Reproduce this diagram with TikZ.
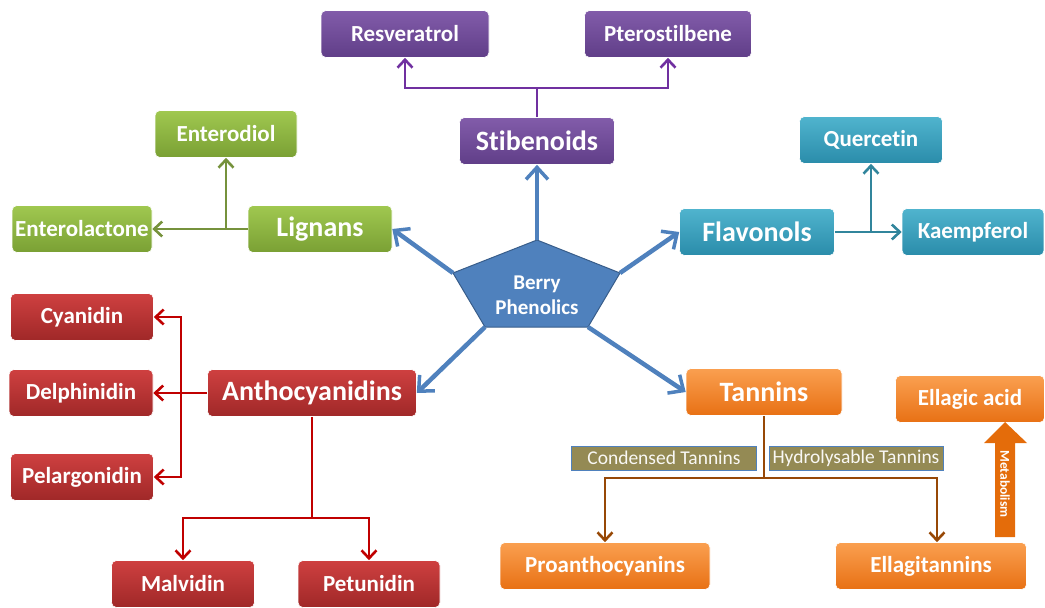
\documentclass[tikz,border=0pt]{standalone}
\usepackage{fontspec}
\setmainfont{Carlito}[Ligatures=NoCommon]
\usepackage{xcolor}
\usepackage{tikz}
\usetikzlibrary{arrows.meta}
\definecolor{bpBlue}{RGB}{79,129,189}
\definecolor{bpBlueDark}{RGB}{56,93,138}
\definecolor{stPurpleTop}{RGB}{130,92,170}
\definecolor{stPurpleBot}{RGB}{96,62,136}
\definecolor{stPurpleLine}{RGB}{112,48,160}
\definecolor{lgGreenTop}{RGB}{160,200,80}
\definecolor{lgGreenBot}{RGB}{122,160,52}
\definecolor{lgGreenLine}{RGB}{118,146,60}
\definecolor{flTealTop}{RGB}{80,180,206}
\definecolor{flTealBot}{RGB}{42,140,170}
\definecolor{flTealLine}{RGB}{49,133,156}
\definecolor{anRedTop}{RGB}{206,64,64}
\definecolor{anRedBot}{RGB}{160,40,40}
\definecolor{anRedLine}{RGB}{192,0,0}
\definecolor{tnOrangeTop}{RGB}{250,160,80}
\definecolor{tnOrangeBot}{RGB}{232,112,20}
\definecolor{tnBrownLine}{RGB}{151,72,6}
\definecolor{tnOrangeArrow}{RGB}{228,108,10}
\definecolor{tnTan}{RGB}{148,138,84}

\begin{document}
\begin{tikzpicture}[x=1pt,y=-1pt,
  box/.style={rounded corners=5pt, minimum height=47pt, inner sep=2pt, text=white,
    draw=white, line width=0.6pt, font=\bfseries\fontsize{23}{27}\selectfont},
  bigbox/.style={box, font=\bfseries\fontsize{28}{32}\selectfont},
  purplebox/.style={top color=stPurpleTop, bottom color=stPurpleBot},
  greenbox/.style={top color=lgGreenTop, bottom color=lgGreenBot},
  tealbox/.style={top color=flTealTop, bottom color=flTealBot},
  redbox/.style={top color=anRedTop, bottom color=anRedBot},
  orangebox/.style={top color=tnOrangeTop, bottom color=tnOrangeBot},
  tanlabel/.style={fill=tnTan, draw=bpBlue, line width=1pt, text=white!94!tnTan,
    minimum height=24pt, inner sep=1pt, font=\fontsize{19.5}{22}\selectfont},
  hubarrow/.style={bpBlue, line width=4.5pt, -{Straight Barb[length=12pt,width=22pt,line width=3.5pt]}},
  sub/.style={line width=2.8pt, -{Straight Barb[length=8pt,width=15pt,line width=2.6pt]}},
  subline/.style={line width=2.8pt}
]
\useasboundingbox (0,0) rectangle (1045,608);

% centre pentagon
\coordinate (pt) at (537,240);
\coordinate (pr) at (620,273);
\coordinate (pbr) at (588,327);
\coordinate (pbl) at (485,327);
\coordinate (pl) at (453,273);
\filldraw[fill=bpBlue, draw=bpBlueDark, line width=1pt] (pt)--(pr)--(pbr)--(pbl)--(pl)--cycle;
\node[text=white, align=center, font=\bfseries\fontsize{21}{25}\selectfont] (hub) at (537,295) {Berry\\Phenolics};

% stilbenoids
\node[bigbox, purplebox, minimum width=155pt] (stib) at (537,141) {Stibenoids};
\node[box, purplebox, minimum width=168pt] (resv) at (405,34) {Resveratrol};
\node[box, purplebox, minimum width=167pt] (ptero) at (668,34) {Pterostilbene};

% lignans
\node[bigbox, greenbox, minimum width=144pt] (lign) at (320,229) {Lignans};
\node[box, greenbox, minimum width=142pt] (entd) at (226,134) {Enterodiol};
\node[box, greenbox, minimum width=140pt] (entl) at (82,229) {Enterolactone};

% flavonols
\node[bigbox, tealbox, minimum width=155pt] (flav) at (757,232) {Flavonols};
\node[box, tealbox, minimum width=143pt] (quer) at (871,140) {Quercetin};
\node[box, tealbox, minimum width=142pt] (kaem) at (973,232) {Kaempferol};

% anthocyanidins
\node[bigbox, redbox, minimum width=209pt] (antho) at (312,393) {Anthocyanidins};
\node[box, redbox, minimum width=143pt] (cyan) at (82,317) {Cyanidin};
\node[box, redbox, minimum width=144pt] (delph) at (81,393) {Delphinidin};
\node[box, redbox, minimum width=143pt] (pelar) at (82,477) {Pelargonidin};
\node[box, redbox, minimum width=143pt] (malv) at (183,584) {Malvidin};
\node[box, redbox, minimum width=142pt] (petu) at (369,584) {Petunidin};

% tannins
\node[bigbox, orangebox, minimum width=156pt] (tann) at (764,392) {Tannins};
\node[box, orangebox, minimum width=210pt] (proa) at (605,566) {Proanthocyanins};
\node[box, orangebox, minimum width=191pt] (ellt) at (931,566) {Ellagitannins};
\node[box, orangebox, minimum width=149pt] (ella) at (970,399) {Ellagic acid};
\node[tanlabel, minimum width=185pt] (cond) at (664,458) {Condensed Tannins};
\node[tanlabel, minimum width=174pt] (hydr) at (856,458) {Hydrolysable Tannins};

% hub arrows
\draw[hubarrow] (pt) -- (stib.south);
\draw[hubarrow] (pl) -- (lign.east);
\draw[hubarrow] (pr) -- (flav.west);
\draw[hubarrow] (pbl) -- (antho.east);
\draw[hubarrow] (pbr) -- (tann.west);

% branches
\coordinate (sj) at (537,88);
\draw[subline, stPurpleLine] (stib.north) -- (sj);
\draw[sub, stPurpleLine] (sj) -| (resv.south);
\draw[sub, stPurpleLine] (sj) -| (ptero.south);

\coordinate (lj) at (226,229);
\draw[sub, lgGreenLine] (lign.west) -- (entl.east);
\draw[sub, lgGreenLine] (lj) -- (entd.south);

\coordinate (fj) at (871,232);
\draw[sub, flTealLine] (flav.east) -- (kaem.west);
\draw[sub, flTealLine] (fj) -- (quer.south);

\coordinate (rj) at (181,393);
\coordinate (rb) at (312,518);
\draw[sub, anRedLine] (antho.west) -- (delph.east);
\draw[sub, anRedLine] (rj) |- (cyan.east);
\draw[sub, anRedLine] (rj) |- (pelar.east);
\draw[subline, anRedLine] (antho.south) -- (rb);
\draw[sub, anRedLine] (rb) -| (malv.north);
\draw[sub, anRedLine] (rb) -| (petu.north);

\coordinate (tj) at (764,478);
\draw[subline, tnBrownLine] (tann.south) -- (tj);
\draw[sub, tnBrownLine] (tj) -| (proa.north);
\draw[sub, tnBrownLine] (tj) -| ([xshift=6pt]ellt.north);

% metabolism arrow
\fill[tnOrangeArrow] (995,537) -- (995,443) -- (984,443) -- (1005,422) -- (1027,443)
  -- (1015,443) -- (1015,537) -- cycle;
\node[rotate=-90, text=white, font=\bfseries\fontsize{13.5}{15}\selectfont] (metab) at (1005,484) {Metabolism};
\end{tikzpicture}
\end{document}
